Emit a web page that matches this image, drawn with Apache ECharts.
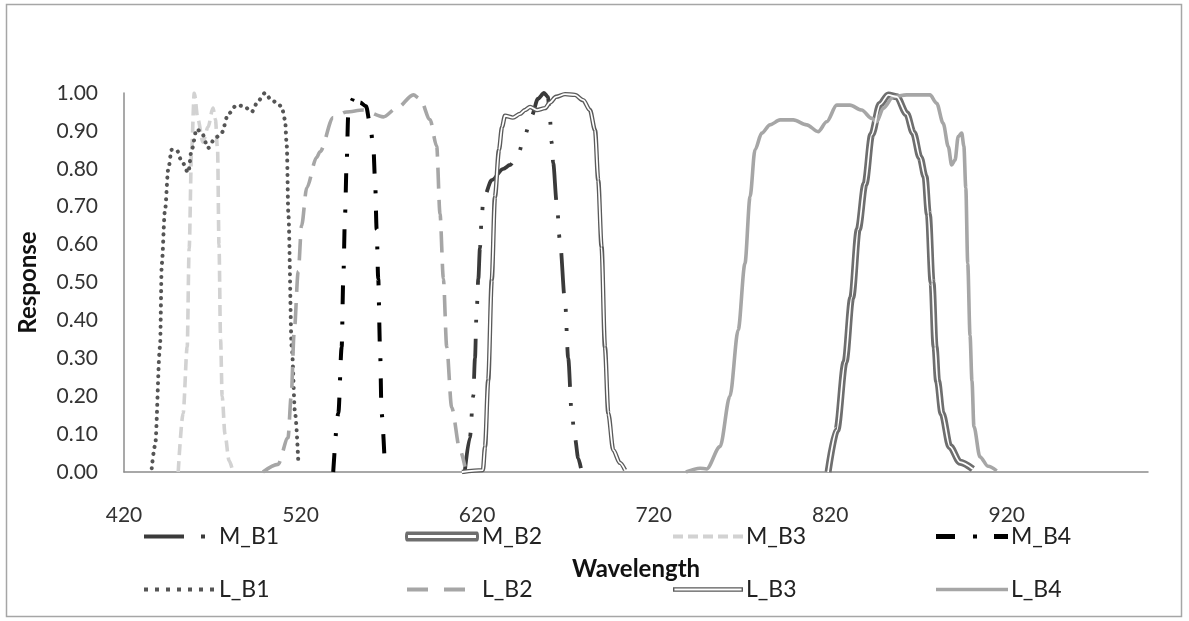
<!DOCTYPE html>
<html>
<head>
<meta charset="utf-8">
<script src="https://cdn.jsdelivr.net/npm/echarts@6/dist/echarts.min.js"></script>
<style>
  html, body { margin: 0; padding: 0; background: #fff; }
  #chart { width: 1189px; height: 621px; }
</style>
</head>
<body>
<div id="chart"></div>
<script>
// [wavelength, response]
const M_B1 = [[613,0],[615.9,0.09],[617.8,0.2],[618.8,0.3],[619.7,0.42],[620.7,0.51],[621.6,0.59],[622.6,0.67],[623.5,0.72],[628.3,0.77],[634.8,0.8],[638.6,0.81],[643.3,0.84],[647.1,0.89],[650.9,0.94],[654.5,0.985],[657.9,1.0],[660.1,0.99],[661.3,0.93],[662.2,0.87],[663.1,0.815],[665.1,0.71],[666.9,0.61],[669.8,0.45],[671.6,0.3],[673.6,0.155],[675.4,0.09],[677.3,0.036],[678.8,0.01]];
const M_B2 = [[818.8,0],[823.7,0.11],[828.4,0.29],[832.2,0.46],[835.9,0.64],[839.7,0.76],[843.5,0.89],[848.2,0.97],[852.9,0.995],[857.7,0.99],[863.3,0.945],[867.1,0.895],[870.9,0.83],[873.7,0.78],[875.6,0.68],[877.7,0.5],[879.4,0.33],[880.8,0.24],[883.3,0.155],[887.8,0.067],[893.5,0.026],[900.8,0.008]];
const M_B3 = [[450.7,0],[453.5,0.155],[455.8,0.33],[456.9,0.59],[458.3,0.85],[459.8,1.0],[461.9,0.93],[464.7,0.87],[467.6,0.91],[470.4,0.96],[471.8,0.93],[473.0,0.85],[473.8,0.6],[474.7,0.35],[475.6,0.2],[477.2,0.1],[479.5,0.03],[481.7,0]];
const M_B4 = [[538.5,0],[541.4,0.155],[543.3,0.33],[544.2,0.51],[545.2,0.68],[546.1,0.815],[547.0,0.94],[549.1,0.98],[550.8,1.0],[553.7,0.975],[557.1,0.965],[559.3,0.92],[561.2,0.86],[562.2,0.77],[563.1,0.64],[564.0,0.51],[565.0,0.33],[565.9,0.155],[567.8,0.01]];
const L_B1 = [[435.7,0.01],[437.6,0.07],[440.4,0.33],[441.4,0.55],[443.2,0.69],[445.1,0.8],[447.0,0.85],[449.8,0.85],[452.7,0.82],[456.4,0.79],[458.3,0.85],[461.2,0.905],[464.0,0.895],[467.7,0.855],[471.5,0.88],[475.3,0.895],[479.1,0.945],[483.8,0.968],[488.0,0.965],[492.3,0.95],[496.1,0.98],[499.9,1.0],[503.7,0.98],[506.5,0.975],[509.3,0.964],[511.2,0.93],[512.2,0.86],[513.1,0.68],[515.0,0.33],[516.9,0.155],[518.7,0.03]];
const L_B2 = [[498.7,0],[507.2,0.02],[512.9,0.09],[514.7,0.2],[516.4,0.37],[518.7,0.53],[520.6,0.65],[523.5,0.75],[529.1,0.83],[531.0,0.845],[538.5,0.935],[546.1,0.95],[555.4,0.955],[566.9,0.937],[574.5,0.96],[583.9,0.995],[587.7,0.985],[593.3,0.93],[597.1,0.86],[599.0,0.68],[600.9,0.51],[602.8,0.33],[605.6,0.17],[610.3,0.058],[613.1,0.014]];
const L_B3 = [[611.4,0],[623.3,0.005],[624.5,0.067],[626.3,0.243],[628.3,0.507],[630.1,0.726],[632.4,0.85],[634.1,0.91],[635.8,0.94],[640.3,0.935],[644.3,0.945],[647.1,0.955],[650.0,0.963],[653.9,0.955],[658.5,0.96],[661.3,0.975],[664.7,0.99],[669.8,0.997],[675.4,0.995],[680.1,0.981],[683.9,0.955],[686.8,0.902],[688.6,0.77],[690.5,0.594],[692.4,0.33],[694.3,0.155],[697.1,0.058],[700.9,0.024],[703.8,0.005]];
const L_B4 = [[738.3,0],[746.3,0.01],[750.0,0.008],[757.6,0.067],[763.2,0.2],[767.9,0.375],[771.7,0.55],[774.6,0.726],[777.4,0.85],[781.2,0.894],[785.9,0.916],[791.6,0.929],[799.1,0.929],[806.7,0.916],[813.2,0.898],[818.0,0.924],[823.7,0.968],[831.2,0.968],[837.8,0.955],[843.5,0.933],[846.3,0.924],[850.1,0.96],[855.7,0.99],[863.3,0.995],[870.8,0.995],[876.5,0.995],[880.3,0.973],[884.0,0.92],[886.9,0.858],[888.8,0.81],[890.7,0.823],[892.5,0.885],[894.5,0.894],[895.7,0.86],[896.8,0.75],[897.9,0.55],[899.2,0.36],[900.3,0.24],[901.4,0.12],[904.8,0.04],[909.5,0.015],[914.3,0.003]];

const xMin = 420, xMax = 1000, labelStep = 100;
const FONT = 'Lato';

let chart = echarts.init(document.getElementById('chart'));

function line(name, data, color, width, dash, z, cap) {
    return {
        name: name,
        type: 'line',
        data: data,
        symbol: 'none',
        smooth: 0.3,
        smoothMonotone: 'x',
        z: z,
        color: color,
        lineStyle: { color: color, width: width, type: dash || 'solid', cap: cap || 'butt' }
    };
}

// legend icons, drawn in a box of w x 14 (corner points keep the box size)
function box(w) { return 'M0,0L0,0M' + w + ',14L' + w + ',14'; }
const icons = {
    M_B1: 'path://' + box(72) + 'M0,5H40V9H0ZM57,5H61V9H57Z',
    M_B2: 'path://' + box(74) + 'M2,2H72Q74,2 74,7Q74,12 72,12H2Q0,12 0,7Q0,2 2,2ZM3,5.5V8.5H71V5.5Z',
    M_B3: 'path://' + box(70) + 'M0,5H10V9H0ZM15,5H25V9H15ZM30,5H40V9H30ZM45,5H55V9H45ZM60,5H70V9H60Z',
    M_B4: 'path://' + box(72) + 'M0,4.5H19V9.5H0ZM37,5H41V9H37ZM58,4.5H72V9.5H58Z',
    L_B1: 'path://' + box(72) + 'M0,5H4V9H0ZM11,5H15V9H11ZM22,5H26V9H22ZM33,5H37V9H33ZM44,5H48V9H44ZM55,5H59V9H55ZM66,5H70V9H66Z',
    L_B2: 'path://' + box(74) + 'M2,5H23V9H2ZM39,5H60V9H39Z',
    L_B3: 'path://' + box(70) + 'M0,4.7H70V9.3H0ZM1.4,6.1V7.9H68.6V6.1Z',
    L_B4: 'path://' + box(70) + 'M0,5.2H70V8.8H0Z'
};
const legendCols = [144, 405, 673, 936];
const legendWidths = [72, 74, 70, 72];
const legendRows = [525, 578];
const legendNames = [['M_B1', 'M_B2', 'M_B3', 'M_B4'], ['L_B1', 'L_B2', 'L_B3', 'L_B4']];
let legends = [];
legendNames.forEach((row, r) => {
    row.forEach((n, c) => {
        legends.push({
            left: legendCols[c],
            top: legendRows[r],
            padding: 0,
            itemGap: 0,
            itemWidth: legendWidths[c],
            itemHeight: 14,
            symbolKeepAspect: false,
            selectedMode: false,
            itemStyle: { borderWidth: 0 },
            textStyle: { fontFamily: FONT, fontSize: 23, color: '#222', padding: [0, 0, 0, -2] },
            data: [{ name: n, icon: icons[n] }]
        });
    });
});

let option = {
    animation: false,
    backgroundColor: '#fff',
    graphic: [{
        type: 'rect',
        shape: { x: 6.5, y: 4.5, width: 1175, height: 612 },
        style: { fill: 'none', stroke: '#a6a6a6', lineWidth: 1.5 },
        silent: true
    }],
    grid: { left: 124, right: 41, top: 93, bottom: 149 },
    legend: legends,
    xAxis: {
        type: 'value',
        min: xMin,
        max: xMax,
        interval: 20,
        name: 'Wavelength',
        nameLocation: 'middle',
        nameGap: 85,
        nameTextStyle: { fontFamily: FONT, fontSize: 24, fontWeight: 'bold', color: '#111' },
        axisLine: { show: true, lineStyle: { color: '#8c8c8c', width: 1.5 } },
        axisTick: { show: false },
        splitLine: { show: false },
        axisLabel: {
            margin: 33,
            fontFamily: FONT, fontSize: 21, color: '#333',
            formatter: v => ((v - xMin) % labelStep === 0 && v <= 920) ? String(v) : ''
        }
    },
    yAxis: {
        type: 'value',
        min: 0,
        max: 1,
        interval: 0.1,
        name: 'Response',
        nameLocation: 'middle',
        nameGap: 84,
        nameRotate: 90,
        nameTextStyle: { fontFamily: FONT, fontSize: 24, fontWeight: 'bold', color: '#111' },
        axisLine: { show: true, lineStyle: { color: '#8c8c8c', width: 1.5 } },
        axisTick: { show: false },
        splitLine: { show: false },
        axisLabel: {
            margin: 26,
            fontFamily: FONT, fontSize: 21, color: '#333',
            formatter: v => v.toFixed(2)
        }
    },
    series: [
        line('M_B1', M_B1, '#3a3a3a', 3.8, [40, 16, 3, 16, 3, 16], 3),
        line('M_B2', M_B2, '#6e6e6e', 7, 'solid', 3),
        line('M_B2_in', M_B2, '#ffffff', 1.7, 'solid', 4),
        line('M_B3', M_B3, '#d2d2d2', 3.6, [11, 6], 3),
        line('M_B4', M_B4, '#000000', 4, [19, 17, 3, 17], 3),
        line('L_B1', L_B1, '#555555', 4, [0.1, 7], 3, 'round'),
        line('L_B2', L_B2, '#a6a6a6', 3.6, [21, 11], 3),
        line('L_B3', L_B3, '#5a5a5a', 4.4, 'solid', 3),
        line('L_B3_in', L_B3, '#ffffff', 1.8, 'solid', 4),
        line('L_B4', L_B4, '#a6a6a6', 3.6, 'solid', 3)
    ]
};
chart.setOption(option);
</script>
</body>
</html>
